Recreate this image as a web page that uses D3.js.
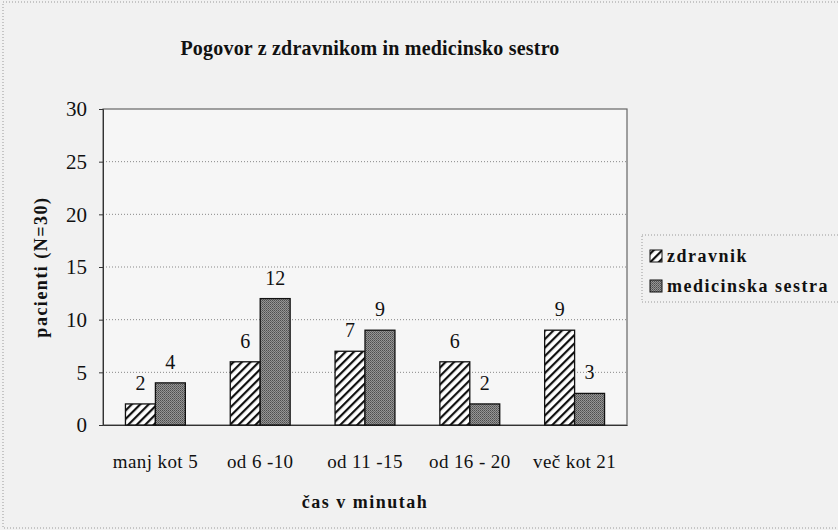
<!DOCTYPE html>
<html lang="sl">
<head>
  <meta charset="UTF-8">
  <title>Pogovor z zdravnikom in medicinsko sestro</title>
  <script src="https://d3js.org/d3.v7.min.js"></script>
  <style>
    body { margin: 0; background: #fff; }
    svg text { font-family: "Liberation Serif", "DejaVu Serif", serif !important; fill: #111; }
    .tick text { font-size: 21px; }
    .xax .tick text { font-size: 19px; letter-spacing: 0.4px; }
    .lbl { font-size: 20px; text-anchor: middle; }
    .bold { font-weight: bold; font-size: 18px; letter-spacing: 1.5px; }
  </style>
</head>
<body>
  <svg id="chart" width="838" height="530"></svg>

  <script>
    // data
    const categories = ["manj kot 5", "od 6 -10", "od 11 -15", "od 16 - 20", "več kot 21"];
    const seriesNames = ["zdravnik", "medicinska sestra"];
    const zdravnik = [2, 6, 7, 6, 9];
    const sestra = [4, 12, 9, 2, 3];
    const yTicks = [0, 5, 10, 15, 20, 25, 30];

    const svg = d3.select("#chart");
    const W = 838, H = 530;
    const plot = { left: 103, top: 109, right: 627, bottom: 425 };

    // scanned-paper background
    svg.append("rect").attr("width", W).attr("height", H).attr("fill", "#f1f1f1");
    svg.append("rect").attr("x", 3).attr("y", 2).attr("width", W + 10).attr("height", H - 4)
      .attr("fill", "none").attr("stroke", "#999").attr("stroke-dasharray", "1,2");

    const defs = svg.append("defs");
    const hatch = defs.append("pattern").attr("id", "hatch")
      .attr("patternUnits", "userSpaceOnUse").attr("width", 6).attr("height", 6)
      .attr("patternTransform", "rotate(45)");
    hatch.append("rect").attr("width", 6).attr("height", 6).attr("fill", "#fff");
    hatch.append("rect").attr("width", 2.2).attr("height", 6).attr("fill", "#111");

    const dots = defs.append("pattern").attr("id", "dots")
      .attr("patternUnits", "userSpaceOnUse").attr("width", 2).attr("height", 2);
    dots.append("rect").attr("width", 2).attr("height", 2).attr("fill", "#959595");
    dots.append("rect").attr("width", 1).attr("height", 1).attr("fill", "#4e4e4e");
    dots.append("rect").attr("x", 1).attr("y", 1).attr("width", 1).attr("height", 1).attr("fill", "#656565");

    const fills = ["url(#hatch)", "url(#dots)"];

    const x = d3.scaleBand().domain(categories).range([plot.left, plot.right]).paddingInner(0).paddingOuter(0);
    const xs = d3.scaleBand().domain(seriesNames).range([0, x.bandwidth()]).paddingInner(0).paddingOuter(0.75);
    const y = d3.scaleLinear().domain([0, 30]).range([plot.bottom, plot.top]);

    // plot area
    svg.append("rect").attr("x", plot.left).attr("y", plot.top)
      .attr("width", plot.right - plot.left).attr("height", plot.bottom - plot.top)
      .attr("fill", "#f6f6f6").attr("stroke", "#666").attr("stroke-width", 1.2);

    // gridlines
    svg.append("g").selectAll("line").data(yTicks.filter(d => d > 0 && d < 30)).join("line")
      .attr("x1", plot.left).attr("x2", plot.right)
      .attr("y1", d => y(d)).attr("y2", d => y(d))
      .attr("stroke", "#888").attr("stroke-dasharray", "1,2");

    // y axis
    const yAxis = svg.append("g").attr("transform", `translate(${plot.left},0)`)
      .call(d3.axisLeft(y).tickValues(yTicks).tickSize(4).tickPadding(12));
    yAxis.select(".domain").attr("stroke", "#333");
    yAxis.selectAll(".tick line").attr("stroke", "#333");

    // x axis
    const xAxis = svg.append("g").attr("class", "xax").attr("transform", `translate(0,${plot.bottom})`)
      .call(d3.axisBottom(x).tickSize(0).tickPadding(30));
    xAxis.select(".domain").attr("stroke", "#333");

    // bars
    const series = [zdravnik, sestra];
    series.forEach((vals, si) => {
      const g = svg.append("g");
      g.selectAll("rect").data(vals).join("rect")
        .attr("x", (d, i) => x(categories[i]) + xs(seriesNames[si]))
        .attr("y", d => y(d))
        .attr("width", xs.bandwidth())
        .attr("height", d => y(0) - y(d))
        .attr("fill", fills[si])
        .attr("stroke", "#111").attr("stroke-width", 1.3);
      g.selectAll("text").data(vals).join("text")
        .attr("class", "lbl")
        .attr("x", (d, i) => x(categories[i]) + xs(seriesNames[si]) + xs.bandwidth() / 2)
        .attr("y", d => y(d) - 14)
        .text(d => d);
    });

    // title
    svg.append("text").attr("class", "bold").attr("x", 370).attr("y", 55).attr("text-anchor", "middle")
      .style("font-size", "20px").style("letter-spacing", "0.2px")
      .text("Pogovor z zdravnikom in medicinsko sestro");

    // axis titles
    svg.append("text").attr("class", "bold").attr("transform", "translate(47,267) rotate(-90)")
      .attr("text-anchor", "middle")
      .text("pacienti (N=30)");
    svg.append("text").attr("class", "bold").attr("x", 365).attr("y", 508).attr("text-anchor", "middle")
      .text("čas v minutah");

    // legend
    const legend = svg.append("g").attr("transform", "translate(642,235)");
    legend.append("rect").attr("width", 210).attr("height", 67)
      .attr("fill", "none").attr("stroke", "#999").attr("stroke-dasharray", "1,2");
    seriesNames.forEach((name, i) => {
      const ly = 15 + i * 30;
      legend.append("rect").attr("x", 8).attr("y", ly).attr("width", 12).attr("height", 12)
        .attr("fill", fills[i]).attr("stroke", "#111");
      legend.append("text").attr("class", "bold").attr("x", 25).attr("y", ly + 12).text(name);
    });
  </script>
</body>
</html>
